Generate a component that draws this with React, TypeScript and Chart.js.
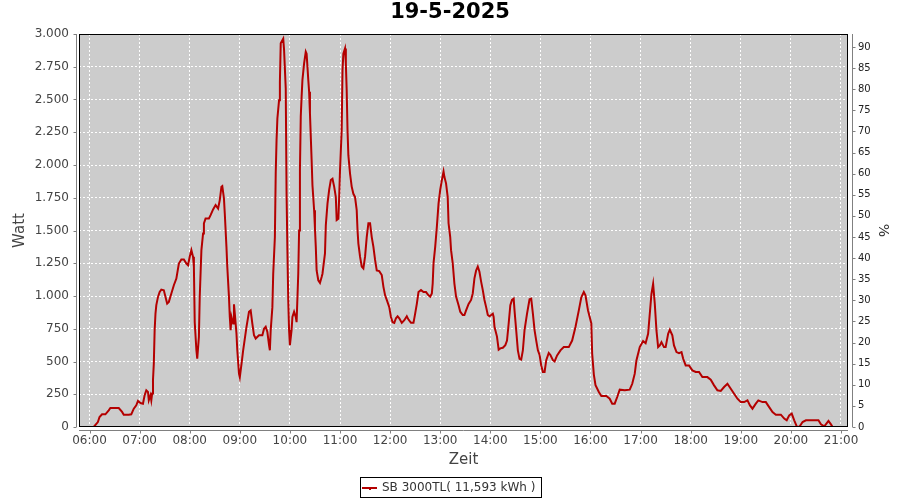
import React, { useEffect, useRef } from "react";
import { Chart, registerables } from "chart.js";

Chart.register(...registerables);

const chartTitle = "19-5-2025";
const seriesLabel = "SB 3000TL( 11,593 kWh )";
const xAxisTitle = "Zeit";
const yAxisTitle = "Watt";
const y2AxisTitle = "%";

const hourLabels = [
  "06:00", "07:00", "08:00", "09:00", "10:00", "11:00", "12:00", "13:00",
  "14:00", "15:00", "16:00", "17:00", "18:00", "19:00", "20:00", "21:00",
];
const wattTicks = [0, 250, 500, 750, 1000, 1250, 1500, 1750, 2000, 2250, 2500, 2750, 3000];
const percentTicks = [0, 5, 10, 15, 20, 25, 30, 35, 40, 45, 50, 55, 60, 65, 70, 75, 80, 85, 90];
const wattMax = 3000;
const percentMax = 93.08;
const axisStartMinutes = 347.4;
const axisEndMinutes = 1268.4;

const times = [
  "06:05", "06:10", "06:12", "06:15", "06:19", "06:23", "06:25", "06:31", "06:35", "06:39", "06:41", "06:47", "06:50", "06:53", "06:56", "06:58",
  "07:01", "07:04", "07:06", "07:08", "07:10", "07:11", "07:13", "07:14", "07:15", "07:16", "07:17", "07:18", "07:19", "07:20", "07:22", "07:24", "07:26", "07:29", "07:31", "07:33", "07:35", "07:38", "07:41", "07:44", "07:47", "07:50", "07:53", "07:56", "07:58",
  "08:00", "08:02", "08:04", "08:05", "08:06", "08:08", "08:09", "08:11", "08:12", "08:13", "08:14", "08:16", "08:17", "08:19", "08:23", "08:25", "08:28", "08:31", "08:34", "08:36", "08:38", "08:39", "08:41", "08:42", "08:44", "08:45", "08:47", "08:48", "08:49", "08:50", "08:52", "08:53", "08:54", "08:56", "08:57", "08:59",
  "09:00", "09:02", "09:04", "09:06", "09:08", "09:11", "09:13", "09:15", "09:17", "09:19", "09:23", "09:27", "09:29", "09:31", "09:33", "09:35", "09:36", "09:37", "09:39", "09:40", "09:42", "09:43", "09:44", "09:45", "09:47", "09:48", "09:49", "09:52", "09:53", "09:55", "09:56", "09:57", "09:58", "09:59",
  "10:00", "10:02", "10:03", "10:05", "10:07", "10:08", "10:10", "10:11", "10:12", "10:13", "10:14", "10:15", "10:17", "10:19", "10:20", "10:22", "10:23", "10:24", "10:26", "10:27", "10:29", "10:30", "10:31", "10:32", "10:34", "10:36", "10:38", "10:39", "10:42", "10:43", "10:45", "10:47", "10:49", "10:51", "10:53", "10:55", "10:56", "10:58", "10:59",
  "11:00", "11:02", "11:03", "11:04", "11:06", "11:07", "11:08", "11:09", "11:10", "11:12", "11:14", "11:16", "11:18", "11:20", "11:21", "11:22", "11:24", "11:26", "11:28", "11:30", "11:32", "11:34", "11:36", "11:38", "11:40", "11:42", "11:44", "11:47", "11:50", "11:52", "11:54", "11:56", "11:59",
  "12:01", "12:03", "12:05", "12:07", "12:09", "12:11", "12:14", "12:17", "12:20", "12:22", "12:25", "12:28", "12:30", "12:32", "12:34", "12:37", "12:40", "12:43", "12:46", "12:48", "12:50", "12:51", "12:52", "12:54", "12:56", "12:58",
  "13:00", "13:02", "13:04", "13:05", "13:07", "13:09", "13:10", "13:12", "13:13", "13:15", "13:17", "13:19", "13:22", "13:24", "13:27", "13:29", "13:31", "13:34", "13:37", "13:39", "13:41", "13:43", "13:45", "13:47", "13:49", "13:51", "13:53", "13:55", "13:57", "13:59",
  "14:01", "14:03", "14:04", "14:05", "14:08", "14:10", "14:12", "14:15", "14:18", "14:20", "14:22", "14:24", "14:26", "14:28", "14:29", "14:31", "14:33", "14:35", "14:37", "14:39", "14:41", "14:44", "14:47", "14:49", "14:51", "14:53", "14:55", "14:57", "14:59",
  "15:01", "15:03", "15:05", "15:07", "15:10", "15:12", "15:15", "15:17", "15:20", "15:24", "15:28", "15:34", "15:38", "15:42", "15:46", "15:49", "15:52", "15:54", "15:57",
  "16:01", "16:02", "16:04", "16:06", "16:10", "16:13", "16:19", "16:23", "16:26", "16:29", "16:32", "16:35", "16:41", "16:47", "16:50", "16:53", "16:55", "16:59",
  "17:03", "17:06", "17:09", "17:11", "17:13", "17:15", "17:17", "17:19", "17:21", "17:23", "17:25", "17:28", "17:30", "17:33", "17:35", "17:38", "17:40", "17:43", "17:46", "17:49", "17:51", "17:54", "17:58",
  "18:02", "18:06", "18:10", "18:14", "18:20", "18:24", "18:28", "18:32", "18:36", "18:40", "18:44", "18:48", "18:52", "18:56",
  "19:00", "19:04", "19:08", "19:11", "19:14", "19:18", "19:21", "19:26", "19:30", "19:34", "19:38", "19:42", "19:48", "19:52", "19:55", "19:58",
  "20:01", "20:04", "20:07", "20:10", "20:14", "20:18", "20:24", "20:30", "20:33", "20:36", "20:40", "20:43", "20:45", "20:48", "20:50",
];

const watts = [
  0, 38, 76, 97, 97, 127, 145, 145, 145, 115, 94, 94, 97, 140, 166, 199,
  183, 178, 242, 280, 267, 204, 242, 204, 255, 357, 484, 739, 866, 930, 993, 1031, 1049, 1044, 993, 942, 955, 1019, 1082, 1133, 1248, 1279, 1279, 1248, 1235,
  1299, 1350, 1299, 1223, 800, 586, 522, 688, 993, 1172, 1350, 1477, 1554, 1592, 1592, 1617, 1661, 1694, 1668, 1732, 1834, 1839, 1745, 1630, 1375, 1223, 993, 840, 739, 840, 790, 937, 866, 713, 586, 408,
  380, 480, 585, 675, 765, 880, 890, 790, 700, 675, 700, 700, 750, 765, 725, 625, 585, 740, 915, 1170, 1450, 1935, 2190, 2355, 2495, 2635, 2930, 2965, 2880, 2585, 1780, 1350, 970, 740,
  625, 740, 840, 880, 840, 800, 1170, 1500, 1960, 2370, 2520, 2650, 2775, 2865, 2850, 2650, 2560, 2395, 2040, 1845, 1655, 1515, 1375, 1195, 1120, 1100, 1145, 1170, 1325, 1540, 1705, 1810, 1885, 1895, 1835, 1755, 1580, 1590, 1755,
  1960, 2265, 2725, 2850, 2890, 2775, 2570, 2265, 2075, 1935, 1835, 1780, 1755, 1655, 1500, 1400, 1300, 1225, 1210, 1300, 1450, 1555, 1555, 1450, 1375, 1275, 1195, 1190, 1160, 1070, 1005, 970, 915,
  840, 800, 795, 830, 845, 830, 795, 815, 845, 820, 795, 795, 865, 940, 1030, 1045, 1030, 1030, 1005, 995, 1020, 1095, 1250, 1375, 1530, 1705,
  1810, 1885, 1950, 1910, 1860, 1755, 1555, 1450, 1350, 1250, 1095, 995, 930, 880, 855, 855, 890, 940, 970, 1020, 1135, 1195, 1225, 1185, 1110, 1045, 970, 915, 855, 845,
  855, 865, 840, 765, 690, 590, 600, 605, 625, 660, 790, 930, 970, 980, 890, 740, 585, 520, 515, 585, 740, 865, 975, 980, 865, 740, 660, 585, 550,
  470, 420, 420, 510, 565, 550, 510, 500, 546, 585, 610, 610, 660, 763, 890, 990, 1030, 1005, 890,
  790, 560, 400, 320, 267, 236, 236, 216, 178, 178, 229, 285, 280, 285, 330, 407, 508, 610,
  656, 640, 712, 864, 1017, 1093, 940, 737, 610, 623, 648, 610, 610, 712, 742, 700, 623, 572, 564, 572, 521, 470, 470,
  432, 420, 420, 381, 381, 361, 318, 280, 275, 305, 330, 292, 254, 216,
  190, 190, 203, 165, 140, 178, 203, 190, 190, 152, 114, 94, 94, 64, 51, 89,
  102, 51, 5, 0, 38, 51, 51, 51, 51, 20, 5, 30, 46, 20, 0,
];

const toMinutes = (s: string) => {
  const [h, m] = s.split(":").map(Number);
  return h * 60 + m;
};

const formatWatt = (v: number) => {
  if (v >= 1000) {
    return Math.floor(v / 1000) + "." + String(v % 1000).padStart(3, "0");
  }
  return String(v);
};

const FONT = "DejaVu Sans";

const framePlugin = {
  id: "frame",
  beforeDraw(chart: any) {
    const { ctx, chartArea: a } = chart;
    ctx.save();
    ctx.fillStyle = "#ffffff";
    ctx.fillRect(0, 0, chart.width, chart.height);
    ctx.fillStyle = "#cccccc";
    ctx.fillRect(a.left, a.top, a.right - a.left, a.bottom - a.top);
    ctx.restore();
  },
  afterDraw(chart: any) {
    const { ctx, chartArea: a } = chart;
    const ys = chart.scales.y;
    const y1s = chart.scales.y1;
    const xs = chart.scales.x;
    ctx.save();
    // plot border
    ctx.strokeStyle = "#000000";
    ctx.lineWidth = 1;
    ctx.strokeRect(a.left + 0.5, a.top + 0.5, a.right - a.left - 1, a.bottom - a.top - 1);

    // axis lines (gray, offset from plot)
    ctx.strokeStyle = "#808080";
    ctx.beginPath();
    const lx = a.left - 2.5;
    ctx.moveTo(lx, a.top);
    ctx.lineTo(lx, a.bottom);
    wattTicks.forEach((v) => {
      const py = Math.round(ys.getPixelForValue(v)) + 0.5;
      ctx.moveTo(lx, py);
      ctx.lineTo(lx - 3, py);
    });
    const rx = a.right + 4.5;
    ctx.moveTo(rx, a.top);
    ctx.lineTo(rx, a.bottom);
    percentTicks.forEach((v) => {
      const py = Math.round(y1s.getPixelForValue(v)) + 0.5;
      ctx.moveTo(rx, py);
      ctx.lineTo(rx + 3, py);
    });
    const by = a.bottom + 3.5;
    ctx.moveTo(a.left, by);
    ctx.lineTo(a.right, by);
    hourLabels.forEach((l) => {
      const px = Math.round(xs.getPixelForValue(toMinutes(l))) + 0.5;
      ctx.moveTo(px, by);
      ctx.lineTo(px, by + 3);
    });
    ctx.stroke();

    // legend
    ctx.font = `12px "${FONT}"`;
    const tw = ctx.measureText(seriesLabel).width;
    const bw = Math.round(22 + tw + 6);
    const bx = Math.round(450.5 - bw / 2);
    const bTop = 477;
    const bh = 21;
    ctx.strokeStyle = "#000000";
    ctx.strokeRect(bx + 0.5, bTop + 0.5, bw, bh - 1);
    ctx.strokeStyle = "#b40000";
    ctx.lineWidth = 2;
    ctx.beginPath();
    ctx.moveTo(bx + 2, bTop + 11);
    ctx.lineTo(bx + 17, bTop + 11);
    ctx.stroke();
    ctx.fillStyle = "#b40000";
    ctx.fillRect(bx + 9, bTop + 11, 2, 2);
    ctx.fillStyle = "#333333";
    ctx.textBaseline = "middle";
    ctx.textAlign = "left";
    ctx.fillText(seriesLabel, bx + 22, bTop + 10.5);
    ctx.restore();
  },
};

export default function App() {
  const canvasRef = useRef<HTMLCanvasElement | null>(null);

  useEffect(() => {
    document.body.style.margin = "0";
    const canvas = canvasRef.current;
    if (!canvas) return;
    Chart.defaults.font.family = FONT;

    const data = times.map((t, i) => ({ x: toMinutes(t), y: watts[i] }));

    const chart = new Chart(canvas, {
      type: "line",
      data: {
        datasets: [
          {
            label: seriesLabel,
            data,
            borderColor: "#b40000",
            backgroundColor: "#b40000",
            borderWidth: 2,
            pointRadius: 0,
            tension: 0,
            fill: false,
            yAxisID: "y",
            xAxisID: "x",
          },
        ],
      },
      options: {
        animation: false,
        responsive: false,
        devicePixelRatio: 1,
        layout: { padding: { left: 0, right: 0, top: 0, bottom: 23 } },
        plugins: {
          legend: { display: false },
          tooltip: { enabled: false },
          title: {
            display: true,
            text: chartTitle,
            color: "#000000",
            font: { family: FONT, size: 21, weight: "bold", lineHeight: 1.2 },
            padding: { top: 0, bottom: 8.8 },
          },
        },
        scales: {
          x: {
            type: "linear",
            position: "bottom",
            min: axisStartMinutes,
            max: axisEndMinutes,
            afterFit: (s: any) => {
              s.height = 50;
            },
            afterBuildTicks: (s: any) => {
              s.ticks = hourLabels.map((l) => ({ value: toMinutes(l) }));
            },
            ticks: {
              callback: (v: any) => hourLabels.find((l) => toMinutes(l) === v) ?? "",
              color: "#444444",
              font: { size: 12 },
              padding: 7,
              maxRotation: 0,
              autoSkip: false,
            },
            grid: { color: "#ffffff", lineWidth: 1, drawTicks: false },
            border: { display: false, dash: [2, 2] },
            title: {
              display: true,
              text: xAxisTitle,
              color: "#444444",
              font: { size: 15 },
              padding: { top: 0, bottom: 8 },
            },
          },
          y: {
            position: "left",
            min: 0,
            max: wattMax,
            afterFit: (s: any) => {
              s.width = 79;
            },
            afterBuildTicks: (s: any) => {
              s.ticks = wattTicks.map((v) => ({ value: v }));
            },
            ticks: {
              callback: (v: any) => formatWatt(Number(v)),
              color: "#444444",
              font: { size: 12 },
              padding: 10,
            },
            grid: { color: "#ffffff", lineWidth: 1, drawTicks: false },
            border: { display: false, dash: [2, 2] },
            title: {
              display: true,
              text: yAxisTitle,
              color: "#444444",
              font: { size: 15 },
              padding: { top: 11, bottom: 0 },
            },
          },
          y1: {
            position: "right",
            min: 0,
            max: percentMax,
            afterFit: (s: any) => {
              s.width = 52;
            },
            afterBuildTicks: (s: any) => {
              s.ticks = percentTicks.map((v) => ({ value: v }));
            },
            ticks: {
              color: "#222222",
              font: { size: 10 },
              padding: 10,
            },
            grid: { display: false, drawTicks: false },
            border: { display: false },
            title: {
              display: true,
              text: y2AxisTitle,
              color: "#333333",
              font: { size: 14 },
              padding: { top: 9, bottom: 0 },
            },
          },
        },
      },
      plugins: [framePlugin],
    } as any);

    return () => {
      chart.destroy();
    };
  }, []);

  return (
    <div style={{ width: 900, height: 500 }}>
      <canvas ref={canvasRef} width={900} height={500} style={{ display: "block" }} />
    </div>
  );
}
